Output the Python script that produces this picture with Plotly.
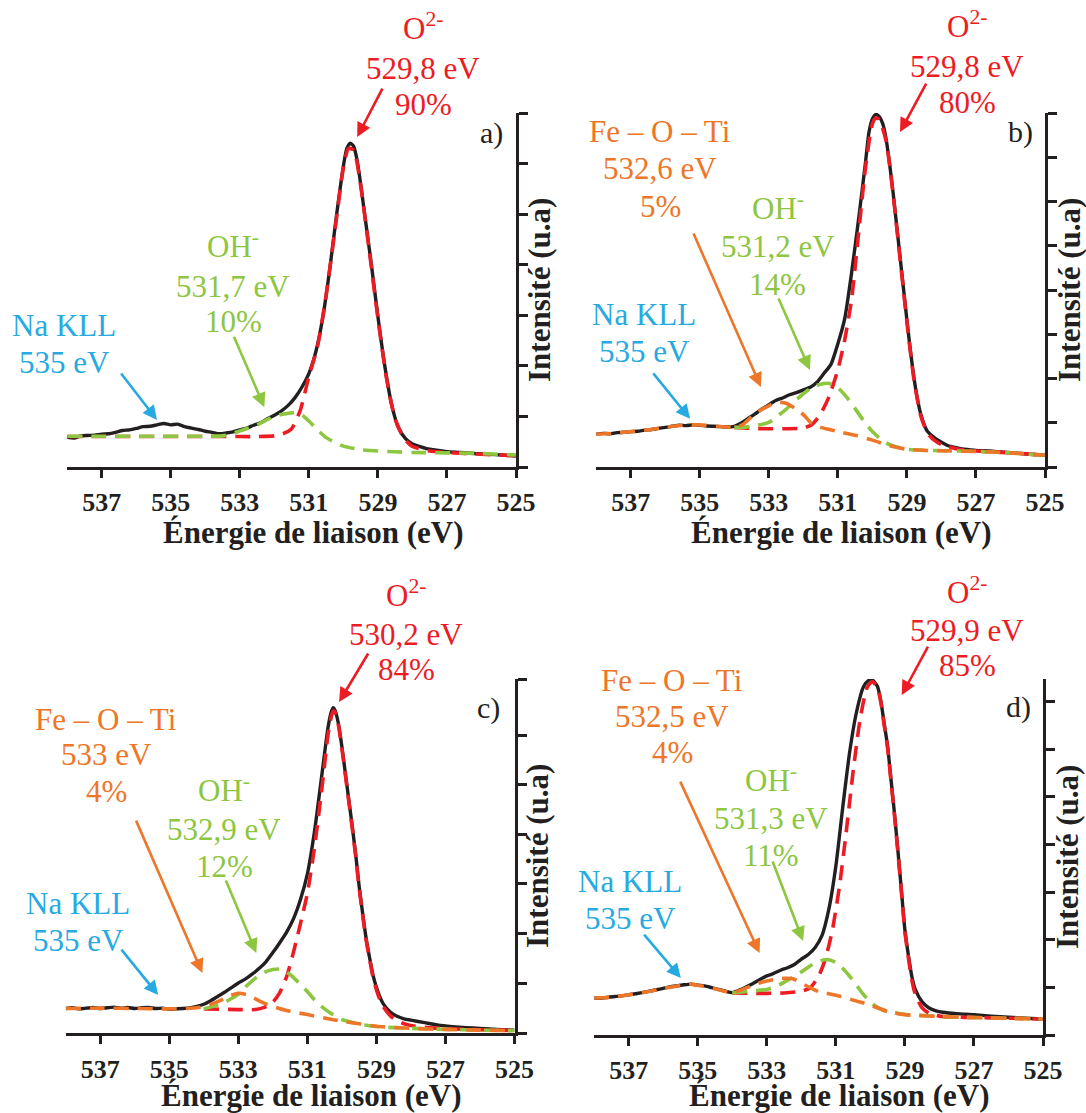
import plotly.graph_objects as go

# ---------------- data ----------------
# intensities in arbitrary units: 0 = x-axis line, 100 = top of the y axis
# panel a
a_exp_E = [538.0, 537.8, 537.6, 537.4, 537.2, 537.0, 536.8, 536.6, 536.4, 536.2, 536.0, 535.8, 535.6, 535.4,
           535.2, 535.0, 534.8, 534.6, 534.4, 534.2, 534.0, 533.8, 533.6, 533.4, 533.2, 533.0, 532.8, 532.6,
           532.4, 532.2, 532.0, 531.8, 531.6, 531.4, 531.2, 531.0, 530.8, 530.6, 530.4, 530.2, 530.0, 529.9,
           529.8, 529.7, 529.6, 529.5, 529.4, 529.2, 529.0, 528.8, 528.6, 528.4, 528.2, 528.0, 527.8, 527.6,
           527.4, 527.2, 527.0, 526.6, 526.2, 525.8, 525.4, 525.0]
a_exp_I = [8.4, 8.2, 8.8, 8.9, 9.0, 9.3, 9.4, 9.8, 10.3, 10.5, 10.9, 11.4, 11.5, 11.9, 12.3, 11.9, 12.1, 11.4,
           11.0, 10.6, 10.1, 9.8, 9.4, 9.6, 9.9, 10.5, 11.0, 11.8, 12.5, 13.6, 14.6, 15.8, 17.4, 19.6, 22.6,
           26.4, 32.5, 42.0, 55.5, 71.0, 85.0, 90.0, 91.5, 90.5, 86.5, 80.0, 72.6, 58.0, 42.5, 28.5, 17.5,
           11.0, 8.0, 6.5, 5.8, 5.2, 4.9, 4.6, 4.3, 4.1, 3.8, 3.6, 3.4, 3.1]
a_O_E = [538.0, 537.0, 536.0, 535.0, 534.0, 533.0, 532.5, 532.0, 531.75, 531.5, 531.25, 531.0, 530.75, 530.5,
         530.25, 530.0, 529.85, 529.7, 529.5, 529.25, 529.0, 528.75, 528.5, 528.25, 528.0, 527.5, 527.0,
         526.5, 526.0, 525.5, 525.0]
a_O_I = [8.6, 8.6, 8.6, 8.6, 8.6, 8.6, 8.6, 8.8, 9.4, 10.8, 16.0, 25.5, 34.0, 48.5, 66.5, 84.5, 90.0, 89.5,
         79.5, 61.0, 42.0, 25.0, 13.5, 8.2, 5.8, 4.5, 4.1, 3.8, 3.6, 3.4, 3.2]
a_OH_E = [538.0, 537.0, 536.0, 535.0, 534.0, 533.5, 533.25, 533.0, 532.75, 532.5, 532.25, 532.0, 531.75,
          531.5, 531.25, 531.0, 530.75, 530.5, 530.25, 530.0, 529.5, 529.0, 528.5, 528.0, 527.0, 526.0, 525.0]
a_OH_I = [8.7, 8.7, 8.7, 8.7, 8.7, 8.8, 9.3, 10.2, 11.0, 11.9, 13.2, 14.3, 14.9, 15.3, 15.0, 13.0, 10.5, 8.3,
          7.0, 5.9, 4.9, 4.5, 4.3, 4.1, 4.0, 3.8, 3.4]

# panel b
b_exp_E = [538.0, 537.8, 537.6, 537.4, 537.2, 537.0, 536.8, 536.6, 536.4, 536.2, 536.0, 535.8, 535.6, 535.4,
           535.2, 535.0, 534.8, 534.6, 534.4, 534.2, 534.0, 533.8, 533.6, 533.4, 533.2, 533.0, 532.8, 532.6,
           532.4, 532.2, 532.0, 531.8, 531.6, 531.4, 531.2, 531.0, 530.8, 530.6, 530.4, 530.2, 530.1, 530.0,
           529.9, 529.8, 529.7, 529.6, 529.5, 529.4, 529.3, 529.2, 529.1, 529.0, 528.9, 528.8, 528.7, 528.6,
           528.5, 528.4, 528.2, 528.0, 527.8, 527.6, 527.4, 527.2, 527.0, 526.6, 526.2, 525.8, 525.4, 525.0]
b_exp_I = [9.3, 9.5, 9.4, 9.7, 9.8, 10.0, 10.1, 10.4, 10.6, 10.9, 11.2, 11.5, 11.8, 11.7, 11.9, 11.8, 11.6,
           11.5, 11.4, 11.3, 11.5, 12.4, 13.7, 15.0, 16.4, 17.6, 18.8, 19.5, 20.4, 21.0, 21.8, 22.5, 24.0,
           26.5, 29.0, 34.8, 42.0, 55.0, 70.0, 86.0, 94.5, 98.3, 99.6, 99.0, 97.0, 92.5, 85.5, 77.5, 68.5,
           59.5, 50.5, 41.5, 33.0, 25.5, 19.5, 15.0, 12.0, 10.0, 8.2, 7.0, 6.0, 5.5, 5.1, 4.9, 4.7, 4.5, 4.2,
           3.9, 3.6, 3.3]
b_O_E = [534.0, 533.5, 533.0, 532.5, 532.0, 531.75, 531.5, 531.25, 531.0, 530.8, 530.6, 530.4, 530.2, 530.0,
         529.9, 529.8, 529.6, 529.4, 529.2, 529.0, 528.8, 528.6, 528.4, 528.2, 528.0, 527.5, 527.0, 526.0, 525.0]
b_O_I = [11.2, 10.9, 10.8, 10.8, 11.0, 12.0, 15.0, 20.0, 27.5, 36.0, 47.5, 66.0, 84.5, 97.0, 98.6, 98.2, 92.0,
         77.0, 59.0, 41.0, 25.0, 14.5, 9.5, 7.5, 6.3, 5.0, 4.5, 4.0, 3.3]
b_OH_E = [534.0, 533.75, 533.5, 533.0, 532.75, 532.5, 532.25, 532.0, 531.75, 531.5, 531.25, 531.0, 530.75,
          530.5, 530.25, 530.0, 529.75, 529.5, 529.0, 528.0, 527.0, 526.0, 525.0]
b_OH_I = [11.2, 11.2, 11.5, 12.6, 14.4, 16.3, 18.6, 20.7, 22.5, 23.4, 23.6, 22.4, 19.8, 16.5, 13.0, 10.0, 7.8,
          6.3, 5.0, 4.6, 4.4, 4.0, 3.3]
b_FeOTi_E = [538.0, 537.5, 537.0, 536.5, 536.0, 535.5, 535.0, 534.5, 534.0, 533.75, 533.5, 533.25, 533.0,
             532.75, 532.5, 532.25, 532.0, 531.75, 531.5, 531.25, 531.0, 530.5, 530.0, 529.5, 529.0, 528.5,
             528.0, 527.0, 526.0, 525.0]
b_FeOTi_I = [9.3, 9.5, 10.0, 10.5, 11.2, 11.8, 11.9, 11.5, 11.3, 12.0, 14.2, 16.0, 17.3, 18.3, 18.0, 16.6,
             14.8, 12.2, 11.2, 10.6, 10.0, 9.0, 7.6, 6.0, 5.0, 4.7, 4.6, 4.4, 4.0, 3.3]

# panel c
c_exp_E = [538.0, 537.8, 537.6, 537.4, 537.2, 537.0, 536.8, 536.6, 536.4, 536.2, 536.0, 535.8, 535.6, 535.4,
           535.2, 535.0, 534.8, 534.6, 534.4, 534.2, 534.0, 533.8, 533.6, 533.4, 533.2, 533.0, 532.8, 532.6,
           532.4, 532.2, 532.0, 531.8, 531.6, 531.4, 531.2, 531.0, 530.8, 530.6, 530.5, 530.4, 530.3, 530.25,
           530.2, 530.1, 530.0, 529.9, 529.8, 529.7, 529.6, 529.5, 529.4, 529.3, 529.2, 529.1, 529.0, 528.9,
           528.8, 528.6, 528.4, 528.2, 528.0, 527.6, 527.2, 526.8, 526.4, 526.0, 525.5, 525.0]
c_exp_I = [7.0, 7.2, 6.9, 7.1, 7.3, 7.0, 7.2, 7.4, 7.1, 7.3, 7.0, 7.2, 7.3, 7.0, 7.1, 6.8, 6.9, 7.0, 7.2, 7.6,
           8.2, 9.2, 10.4, 11.6, 12.9, 14.2, 15.3, 16.7, 18.3, 20.2, 22.8, 25.6, 28.6, 32.4, 37.8, 45.0, 56.6,
           71.5, 79.2, 86.5, 91.0, 92.0, 91.3, 87.5, 81.0, 73.5, 66.0, 58.5, 50.5, 41.5, 34.0, 27.0, 21.5,
           16.5, 13.0, 10.3, 8.3, 6.0, 4.8, 4.1, 3.7, 3.0, 2.3, 1.9, 1.6, 1.4, 1.1, 0.9]
c_O_E = [534.0, 533.0, 532.5, 532.25, 532.0, 531.8, 531.6, 531.4, 531.2, 531.0, 530.8, 530.6, 530.5, 530.4,
         530.3, 530.25, 530.2, 530.1, 530.0, 529.9, 529.8, 529.7, 529.6, 529.5, 529.4, 529.3, 529.2, 529.1,
         529.0, 528.9, 528.8, 528.6, 528.4, 528.2, 528.0, 527.5, 527.0, 526.0, 525.0]
c_O_I = [6.9, 6.7, 6.7, 7.3, 8.8, 11.5, 16.0, 23.0, 31.0, 39.5, 52.0, 67.5, 76.0, 84.5, 89.8, 91.0, 90.8,
         87.0, 80.5, 73.0, 65.5, 58.0, 50.0, 41.0, 33.5, 26.5, 21.0, 16.0, 12.3, 9.5, 7.5, 5.0, 3.5, 2.7,
         2.2, 1.6, 1.3, 1.0, 0.8]
c_OH_E = [534.0, 533.5, 533.0, 532.75, 532.5, 532.25, 532.0, 531.75, 531.5, 531.25, 531.0, 530.75, 530.5,
          530.25, 530.0, 529.5, 529.0, 528.5, 528.0, 527.0, 526.0, 525.0]
c_OH_I = [6.9, 8.3, 11.0, 13.5, 15.6, 17.2, 18.0, 18.1, 16.6, 14.3, 11.8, 9.0, 6.9, 5.2, 3.9, 2.6, 1.9, 1.6,
          1.4, 1.1, 0.9, 0.75]
c_FeOTi_E = [538.0, 537.0, 536.0, 535.0, 534.5, 534.0, 533.75, 533.5, 533.25, 533.0, 532.75, 532.5, 532.25,
             532.0, 531.5, 531.0, 530.5, 530.0, 529.5, 529.0, 528.0, 527.0, 526.0, 525.0]
c_FeOTi_I = [7.0, 7.1, 7.0, 6.9, 7.0, 7.5, 8.4, 9.4, 10.6, 11.3, 10.9, 9.7, 8.5, 7.6, 6.2, 5.3, 4.3, 3.4,
             2.7, 2.0, 1.4, 1.1, 0.9, 0.75]

# panel d
d_exp_E = [538.0, 537.8, 537.6, 537.4, 537.2, 537.0, 536.8, 536.6, 536.4, 536.2, 536.0, 535.8, 535.6, 535.4,
           535.2, 535.0, 534.8, 534.6, 534.4, 534.2, 534.0, 533.8, 533.6, 533.4, 533.2, 533.0, 532.8, 532.6,
           532.4, 532.2, 532.0, 531.8, 531.6, 531.4, 531.2, 531.0, 530.8, 530.6, 530.4, 530.2, 530.05, 529.95,
           529.8, 529.7, 529.6, 529.5, 529.4, 529.3, 529.2, 529.1, 529.0, 528.9, 528.8, 528.7, 528.5, 528.3,
           528.1, 527.9, 527.5, 527.0, 526.5, 526.0, 525.5, 525.0]
d_exp_I = [10.4, 10.3, 10.6, 10.8, 11.0, 11.3, 11.6, 11.9, 12.3, 12.7, 13.1, 13.5, 13.8, 14.1, 14.3, 14.0,
           13.8, 13.3, 12.8, 12.3, 11.9, 12.6, 13.5, 14.5, 15.6, 16.6, 17.3, 18.2, 18.9, 19.8, 21.3, 22.6,
           24.6, 28.0, 35.5, 47.5, 64.0, 79.5, 90.8, 97.8, 99.6, 99.8, 98.0, 94.0, 87.5, 81.0, 71.5, 62.0,
           51.5, 40.5, 29.5, 22.5, 16.5, 12.8, 9.3, 7.6, 6.8, 6.4, 6.0, 5.7, 5.3, 5.0, 4.7, 4.5]
d_O_E = [534.0, 533.5, 533.0, 532.5, 532.0, 531.75, 531.5, 531.3, 531.1, 530.9, 530.7, 530.5, 530.3, 530.1,
         529.95, 529.8, 529.7, 529.6, 529.5, 529.4, 529.3, 529.2, 529.1, 529.0, 528.9, 528.8, 528.7, 528.5,
         528.3, 528.0, 527.5, 527.0, 526.0, 525.0]
d_O_I = [11.8, 11.7, 11.7, 11.8, 12.3, 13.2, 16.5, 21.5, 29.5, 41.5, 57.0, 74.0, 88.5, 97.5, 99.3, 97.6,
         93.6, 87.0, 80.5, 71.0, 61.5, 51.0, 40.0, 29.0, 21.8, 15.5, 11.5, 7.6, 6.1, 5.3, 5.0, 4.9, 4.7, 4.5]
d_OH_E = [534.0, 533.5, 533.0, 532.75, 532.5, 532.25, 532.0, 531.75, 531.5, 531.25, 531.0, 530.75, 530.5,
          530.25, 530.0, 529.75, 529.5, 529.0, 528.5, 528.0, 527.0, 526.0, 525.0]
d_OH_I = [11.8, 12.3, 12.8, 13.6, 14.8, 16.2, 17.7, 19.4, 20.7, 21.2, 20.4, 18.2, 15.3, 12.0, 9.2, 7.5, 6.6,
          5.8, 5.5, 5.2, 4.9, 4.7, 4.5]
d_FeOTi_E = [538.0, 537.5, 537.0, 536.5, 536.0, 535.5, 535.2, 535.0, 534.5, 534.0, 533.75, 533.5, 533.25,
             533.0, 532.75, 532.5, 532.25, 532.0, 531.75, 531.5, 531.0, 530.5, 530.0, 529.5, 529.0, 528.0,
             527.0, 526.0, 525.0]
d_FeOTi_I = [10.4, 10.6, 11.3, 12.1, 13.1, 13.9, 14.3, 14.0, 13.0, 11.9, 12.6, 13.6, 14.5, 15.2, 15.6, 15.9,
             15.8, 14.6, 13.3, 12.2, 11.2, 9.8, 8.4, 6.6, 5.7, 5.2, 4.9, 4.7, 4.5]

# x tick labels and (unlabelled) y tick positions
x_ticks = [537, 535, 533, 531, 529, 527, 525]
a_yticks = [0, 14.29, 28.57, 42.86, 57.14, 71.43, 85.71, 100]
b_yticks = [0, 12.5, 25, 37.5, 50, 62.5, 75, 87.5, 100]
c_yticks = [0, 14.05, 28.1, 42.2, 56.3, 70.2, 84.0, 100]
d_yticks = [0, 13.4, 26.8, 40.1, 53.5, 66.9, 80.3, 93.6]

# annotation texts
a_labels = dict(O=("529,8 eV", "90%"), OH=("531,7 eV", "10%"), Fe=None)
b_labels = dict(O=("529,8 eV", "80%"), OH=("531,2 eV", "14%"), Fe=("532,6 eV", "5%"))
c_labels = dict(O=("530,2 eV", "84%"), OH=("532,9 eV", "12%"), Fe=("533 eV", "4%"))
d_labels = dict(O=("529,9 eV", "85%"), OH=("531,3 eV", "11%"), Fe=("532,5 eV", "4%"))

# ---------------- styling / layout ----------------
W, H = 1086, 1113
BLACK = "#231F20"
RED = "#ED1C24"
GREEN = "#8DC63F"
ORANGE = "#EE7628"
BLUE = "#27AAE1"
SERIF = "Liberation Serif"
DASH = "15px,9px"
FS = 31          # annotation font size

def px(x):
    return x / W

def py(y):
    return 1 - y / H

panels = [
    dict(name="a", xd=(67.2, 516.0), yd=(113.0, 467.0), yt=a_yticks, lab=a_labels,
         exp=(a_exp_E, a_exp_I), O=(a_O_E, a_O_I), OH=(a_OH_E, a_OH_I), Fe=None,
         pos=dict(O=(423, (32, 69, 105)), OH=(233, (250, 286, 322)), Na=(64, (325, 362)), Fe=None,
                  tag=(491, 133), xt=(313, 532), yt=(539, 290)),
         arrows=dict(O=(529.60, 93.2, 26, -50), OH=(532.29, 16.9, -31, -72), Na=(535.40, 13.3, -37, -48), Fe=None)),
    dict(name="b", xd=(596.2, 1045.0), yd=(113.0, 467.0), yt=b_yticks, lab=b_labels,
         exp=(b_exp_E, b_exp_I), O=(b_O_E, b_O_I), OH=(b_OH_E, b_OH_I), Fe=(b_FeOTi_E, b_FeOTi_I),
         pos=dict(O=(967, (29, 66, 103)), OH=(778, (211, 247, 284)), Na=(644, (315, 352)),
                  Fe=(660, (132, 169, 206)), tag=(1020, 132), xt=(841, 532), yt=(1069, 290)),
         arrows=dict(O=(529.20, 94.6, 27, -50), OH=(531.81, 27.4, -32, -73), Na=(535.28, 13.6, -38, -47),
                     Fe=(533.23, 22.6, -68, -155))),
    dict(name="c", xd=(65.7, 514.5), yd=(679.3, 1033.3), yt=c_yticks, lab=c_labels,
         exp=(c_exp_E, c_exp_I), O=(c_O_E, c_O_I), OH=(c_OH_E, c_OH_I), Fe=(c_FeOTi_E, c_FeOTi_I),
         pos=dict(O=(406, (598, 634, 670)), OH=(224, (793, 829, 866)), Na=(78, (903, 940)),
                  Fe=(106, (719, 755, 791)), tag=(488, 708), xt=(311, 1095), yt=(537, 856)),
         arrows=dict(O=(530.08, 93.6, 30, -50), OH=(532.48, 22.7, -31, -74), Na=(535.32, 10.8, -38, -47),
                     Fe=(534.04, 17.0, -67, -154))),
    dict(name="d", xd=(594.2, 1043.0), yd=(679.0, 1035.0), yt=d_yticks, lab=d_labels,
         exp=(d_exp_E, d_exp_I), O=(d_O_E, d_O_I), OH=(d_OH_E, d_OH_I), Fe=(d_FeOTi_E, d_FeOTi_I),
         pos=dict(O=(967, (595, 630, 665)), OH=(771, (783, 818, 855)), Na=(630, (881, 918)),
                  Fe=(672, (680, 716, 752)), tag=(1018, 707), xt=(839, 1095), yt=(1067, 857)),
         arrows=dict(O=(529.09, 95.5, 27, -50), OH=(531.95, 26.4, -31, -81), Na=(535.49, 16.0, -38, -45),
                     Fe=(533.21, 23.0, -80, -173))),
]

fig = go.Figure()
annotations = []
layout_axes = {}

for i, p in enumerate(panels, start=1):
    xa = "x" if i == 1 else f"x{i}"
    ya = "y" if i == 1 else f"y{i}"
    xkey = "xaxis" if i == 1 else f"xaxis{i}"
    ykey = "yaxis" if i == 1 else f"yaxis{i}"

    def add(series, color, dash, width=3.6):
        E, I = series
        fig.add_trace(go.Scatter(x=E, y=I, xaxis=xa, yaxis=ya, mode="lines",
                                 line=dict(color=color, width=width, dash=dash, shape="spline", smoothing=0.6),
                                 showlegend=False, hoverinfo="skip", cliponaxis=False))

    add(p["exp"], BLACK, "solid", 3.4)
    add(p["O"], RED, DASH)
    add(p["OH"], GREEN, DASH)
    if p["Fe"] is not None:
        add(p["Fe"], ORANGE, DASH)

    layout_axes[xkey] = dict(
        domain=[px(p["xd"][0]), px(p["xd"][1])], anchor=ya, range=[538, 525], automargin=False,
        tickmode="array", tickvals=x_ticks, ticktext=[str(t) for t in x_ticks],
        ticks="outside", ticklen=8, tickwidth=3, tickcolor=BLACK,
        showline=True, linewidth=3, linecolor=BLACK, showgrid=False, zeroline=False,
        tickfont=dict(family=SERIF, size=26, color=BLACK, weight="bold"),
        ticklabelstandoff=2, fixedrange=True)
    layout_axes[ykey] = dict(
        domain=[py(p["yd"][1]), py(p["yd"][0])], anchor=xa, side="right", range=[0, 100], automargin=False,
        tickmode="array", tickvals=p["yt"], showticklabels=False,
        ticks="outside", ticklen=9, tickwidth=3, tickcolor=BLACK,
        showline=True, linewidth=3, linecolor=BLACK, showgrid=False, zeroline=False, fixedrange=True)

    def text(x, y, txt, color, size=FS):
        annotations.append(dict(xref="paper", yref="paper", x=px(x), y=py(y),
                                text=txt, showarrow=False, xanchor="center", yanchor="middle",
                                align="center", font=dict(family=SERIF, size=size, color=color)))

    def block(spec, lines, color, sup_first=False):
        x, ys = spec
        for k, (t, y) in enumerate(zip(lines, ys)):
            # a superscript enlarges the text box upward: lift the box so the letters sit on their line
            text(x, y - 5 if (k == 0 and sup_first) else y, t, color)

    def arrow(spec, color):
        E, v, ax, ay = spec
        annotations.append(dict(xref=xa, yref=ya, x=E, y=v, ax=ax, ay=ay, text="",
                                showarrow=True, arrowhead=2, arrowsize=1.1, arrowwidth=2.6,
                                arrowcolor=color, standoff=0, startstandoff=0))

    lab = p["lab"]
    block(p["pos"]["O"], ["O<sup>2-</sup>", lab["O"][0], lab["O"][1]], RED, True)
    block(p["pos"]["OH"], ["OH<sup>-</sup>", lab["OH"][0], lab["OH"][1]], GREEN, True)
    block(p["pos"]["Na"], ["Na KLL", "535 eV"], BLUE)
    if lab["Fe"] is not None:
        block(p["pos"]["Fe"], ["Fe – O – Ti", lab["Fe"][0], lab["Fe"][1]], ORANGE)
    text(p["pos"]["tag"][0], p["pos"]["tag"][1], p["name"] + ")", BLACK, 30)

    arrow(p["arrows"]["O"], RED)
    arrow(p["arrows"]["OH"], GREEN)
    arrow(p["arrows"]["Na"], BLUE)
    if p["arrows"]["Fe"] is not None:
        arrow(p["arrows"]["Fe"], ORANGE)

    # axis titles
    annotations.append(dict(xref="paper", yref="paper", x=px(p["pos"]["xt"][0]), y=py(p["pos"]["xt"][1]),
                            text="Énergie de liaison (eV)", showarrow=False, xanchor="center", yanchor="middle",
                            font=dict(family=SERIF, size=31, color=BLACK, weight="bold")))
    annotations.append(dict(xref="paper", yref="paper", x=px(p["pos"]["yt"][0]), y=py(p["pos"]["yt"][1]),
                            text="Intensité (u.a)", showarrow=False, textangle=-90,
                            xanchor="center", yanchor="middle",
                            font=dict(family=SERIF, size=31, color=BLACK, weight="bold")))

fig.update_layout(
    width=W, height=H, autosize=False, margin=dict(l=0, r=0, t=0, b=0, pad=0),
    paper_bgcolor="white", plot_bgcolor="white", showlegend=False,
    annotations=annotations, **layout_axes)

fig.write_html("out.html", config={"displayModeBar": False, "responsive": False},
               post_script="document.body.style.margin='0px';")
